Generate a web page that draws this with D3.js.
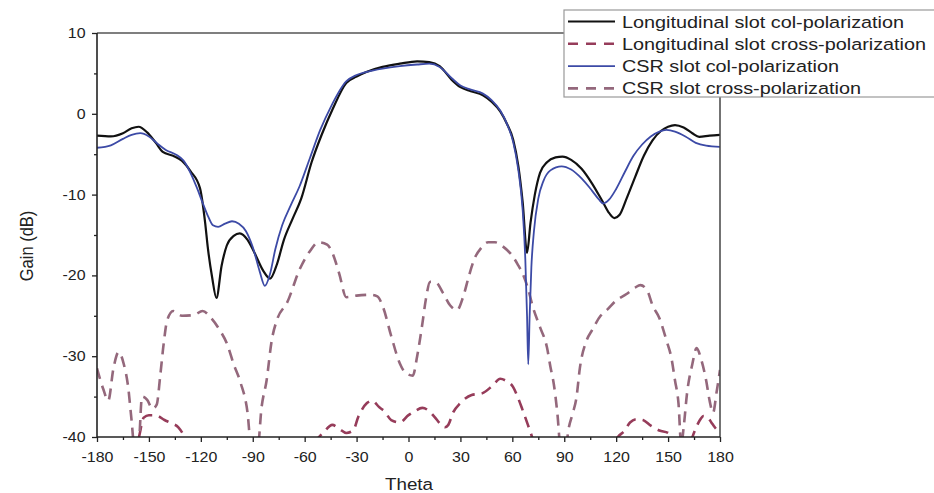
<!DOCTYPE html>
<html>
<head>
<meta charset="utf-8">
<script src="https://cdn.jsdelivr.net/npm/d3@7"></script>
<style>
  body { margin: 0; background: #fff; }
  text { font-family: "Liberation Sans", Arial, sans-serif; fill: #222; }
</style>
</head>
<body>
<div id="chart"></div>
<script>
// Gain pattern vs theta, four series as [theta, gain dB]

const seriesNames = [
  "Longitudinal slot col-polarization",
  "Longitudinal slot cross-polarization",
  "CSR slot col-polarization",
  "CSR slot cross-polarization"
];

const xTicks = [-180, -150, -120, -90, -60, -30, 0, 30, 60, 90, 120, 150, 180];
const yTicks = [10, 0, -10, -20, -30, -40];

const longCol = [
  [-180, -2.7], [-172, -2.8], [-165, -2.4], [-160, -1.8], [-156, -1.6], [-151, -2.3],
  [-146, -3.6], [-142, -4.7], [-136, -5.2], [-131, -5.8], [-126, -7.1], [-120.5, -9.2],
  [-117.5, -13.5], [-116, -16.5], [-113.5, -20.2], [-111, -22.8], [-108, -18.8],
  [-105, -16.3], [-101, -15.1], [-97.5, -14.8], [-93, -15.6], [-89, -17.2], [-84, -19.4],
  [-80, -20.4], [-76, -18.6], [-72, -15.6], [-67, -13], [-62, -10.5], [-56, -6],
  [-50, -2.5], [-44, 0.5], [-36, 3.8], [-30, 4.6], [-24, 5.2], [-15, 5.8], [-5, 6.2],
  [5, 6.5], [12, 6.4], [18, 5.9], [25, 4.2], [30, 3.3], [36, 2.8], [43, 2.3], [48, 1.5],
  [53, 0.3], [57, -1.3], [60.5, -3.2], [63.5, -6.5], [66, -11], [68.5, -17.2],
  [70.5, -13.5], [73, -10], [76, -7.3], [80, -6], [85, -5.4], [89, -5.3], [94, -5.7],
  [100, -6.8], [106, -8.6], [112, -10.8], [116, -12.3], [119, -12.9], [122, -12.5],
  [126, -10.5], [131, -7.8], [136, -5.2], [141, -3.3], [146, -2.1], [150, -1.6],
  [154, -1.4], [159, -1.7], [164, -2.4], [168, -2.85], [174, -2.7], [180, -2.6]
];

const csrCol = [
  [-180, -4.2], [-172, -3.9], [-165, -3.1], [-160, -2.6], [-155, -2.4], [-150, -2.8],
  [-145, -3.7], [-140, -4.5], [-134, -5.1], [-130, -5.8], [-126, -7.3], [-122, -9.3],
  [-119, -11], [-116, -12.6], [-113, -13.8], [-110, -14], [-106, -13.6], [-102, -13.3],
  [-98, -13.6], [-94, -14.5], [-90, -16.5], [-86, -19.5], [-83, -21.3], [-80, -19.8],
  [-77, -16.8], [-73, -13.8], [-68, -11.3], [-63, -9], [-57, -5.5], [-51, -2],
  [-45, 0.8], [-36, 4.0], [-30, 4.8], [-24, 5.2], [-15, 5.6], [-5, 5.9], [5, 6.1],
  [12, 6.2], [18, 5.8], [25, 4.4], [30, 3.5], [36, 3.0], [43, 2.5], [48, 1.7], [53, 0.4],
  [57, -1.3], [60.5, -3.5], [63.5, -7], [66, -12], [67.5, -18], [68.5, -25], [69.2, -31],
  [70, -25], [71, -19], [72.5, -14.5], [75, -10.5], [78, -8.3], [82, -7], [88.5, -6.5],
  [94, -6.9], [100, -8], [106, -9.5], [110, -10.6], [112.5, -11.1], [116, -10.6],
  [120, -9.3], [125, -7.2], [130, -5.2], [135, -3.8], [140, -2.8], [145, -2.2],
  [149, -2.0], [154, -2.2], [160, -2.8], [166, -3.6], [172, -3.95], [180, -4.1]
];

// lower dashed curve (goes below -40 where it is hidden)
const longCross = [
  [-160, -42], [-156, -40.2], [-153, -37.6], [-150, -37.3], [-146, -37.3], [-141, -37.9],
  [-137, -38.3], [-133, -38.8], [-129, -40.2], [-126, -42], [-60, -42], [-53, -40.3],
  [-49, -39.4], [-44, -38.5], [-40, -39], [-36, -39.5], [-32, -39.2], [-29, -37.5],
  [-24, -35.8], [-21, -35.5], [-17, -36.3], [-14, -36.8], [-10, -37.9], [-5, -38.2],
  [0, -37.3], [3, -36.9], [8, -36.4], [12, -36.8], [15, -37.5], [19, -38.5], [21, -38.8],
  [23, -38.5], [25.7, -37], [30, -35.8], [36.5, -34.8], [42.5, -34.6], [48.8, -33.6],
  [53, -32.8], [56, -33], [60.4, -33.8], [63, -35], [66, -36.7], [69, -38.5], [71.4, -40],
  [74, -42], [116, -42], [121, -40], [125, -39.2], [128, -38.2], [132, -37.8],
  [135.5, -37.9], [140, -38.6], [145, -39.2], [150, -39.5], [153, -40.5], [156, -42],
  [160, -42], [163, -40.6], [165.5, -39.2], [168.4, -37.9], [170.5, -37.4], [173, -37.6],
  [175, -38.2], [177, -38.8], [180, -39.5]
];

// upper dashed curve
const csrCross = [
  [-180, -31.5], [-176.5, -34], [-173.5, -35.5], [-170.5, -31.5], [-167.5, -29.5],
  [-164.5, -31], [-162, -33.8], [-160, -38], [-158.5, -41], [-156, -41], [-154, -35],
  [-151, -35.4], [-148, -36.5], [-145.5, -36], [-143.5, -32.5], [-141.5, -28.5],
  [-139.5, -25.6], [-136, -24.4], [-131, -25], [-124, -24.9], [-119, -24.4],
  [-114, -25.3], [-109, -26.8], [-105, -28.4], [-101, -31], [-97, -33.3], [-93, -37],
  [-91, -41], [-87, -41], [-85, -36.5], [-82, -33], [-79, -28], [-76, -25.5],
  [-70, -23.3], [-63, -19.3], [-57, -17], [-52, -15.9], [-47, -16.2], [-44, -17.2],
  [-40, -19.8], [-36, -22.7], [-30, -22.5], [-22, -22.4], [-18, -22.6], [-14.6, -24],
  [-10, -27.5], [-5, -30.9], [-2, -32], [2.5, -32.4], [5, -30], [8, -26], [10, -23],
  [12.5, -20.8], [16, -20.9], [20, -22.2], [24, -23.7], [28, -24.3], [31.5, -22.7],
  [35, -20], [38, -18], [42, -16.6], [46, -15.9], [50, -15.9], [55, -16.5], [59, -17.3],
  [63, -18.6], [66, -19.8], [69, -21.6], [72, -24], [76, -26.4], [80, -28.9],
  [82, -31.3], [84, -33.5], [86, -37], [87.8, -41], [91, -41], [92.5, -39], [95, -37],
  [97, -35.2], [99, -31.5], [103, -28], [106, -26.8], [111, -25], [115, -24.2],
  [120, -23.1], [126, -22.3], [131, -21.5], [134, -21.2], [138, -21.9], [141, -23.7],
  [145, -25.3], [149, -28], [152, -30.3], [154, -33], [156, -35.8], [157.6, -41],
  [159, -38.8], [161, -34.5], [164, -31], [166.5, -29], [169, -30.3], [172, -33],
  [174, -35.5], [176, -37], [178, -34.5], [180, -31.7]
];

const seriesData = [longCol, longCross, csrCol, csrCross];
const seriesColors = ["#111111", "#963c5a", "#3c4aa6", "#94687c"];
const seriesDash = [null, "11,7", null, "11,7"];
const seriesWidth = [2.2, 2.6, 1.8, 2.6];

const width = 934;
const height = 493;
const plot = { left: 97, right: 720, top: 33, bottom: 437 };
const stretch = "scale(1.14,1)"; // picture is a little wider than tall

const svg = d3.select("#chart")
  .append("svg")
  .attr("width", width)
  .attr("height", height);

const x = d3.scaleLinear().domain([-180, 180]).range([plot.left, plot.right]);
const y = d3.scaleLinear().domain([-40, 10]).range([plot.bottom, plot.top]);

svg.append("clipPath")
  .attr("id", "plot-clip")
  .append("rect")
  .attr("x", plot.left)
  .attr("y", plot.top)
  .attr("width", plot.right - plot.left)
  .attr("height", plot.bottom - plot.top);

// minor ticks
svg.append("g")
  .attr("transform", "translate(0," + plot.bottom + ")")
  .call(d3.axisBottom(x).tickValues(d3.range(-165, 180, 30)).tickSize(3).tickSizeOuter(0).tickFormat(""))
  .call(g => g.select(".domain").remove());

svg.append("g")
  .attr("transform", "translate(" + plot.left + ",0)")
  .call(d3.axisLeft(y).tickValues(d3.range(-35, 10, 10)).tickSize(3).tickSizeOuter(0).tickFormat(""))
  .call(g => g.select(".domain").remove());

// major ticks with labels (plain hyphen for negatives, as in the picture)
const xAxis = svg.append("g")
  .attr("transform", "translate(0," + plot.bottom + ")")
  .call(d3.axisBottom(x).tickValues(xTicks).tickSize(5).tickPadding(10).tickSizeOuter(0).tickFormat(d => String(d)));

const yAxis = svg.append("g")
  .attr("transform", "translate(" + plot.left + ",0)")
  .call(d3.axisLeft(y).tickValues(yTicks).tickSize(5).tickPadding(5).tickSizeOuter(0).tickFormat(d => String(d)));

[xAxis, yAxis].forEach(ax => {
  ax.select(".domain").remove();
  ax.selectAll("text")
    .style("font-size", "14px")
    .attr("fill", "#222")
    .attr("transform", stretch);
});
svg.selectAll(".tick line").attr("stroke", "#222").attr("stroke-width", 1.3);

// curves
const line = d3.line()
  .x(d => x(d[0]))
  .y(d => y(d[1]))
  .curve(d3.curveMonotoneX);

const curves = svg.append("g").attr("clip-path", "url(#plot-clip)");
[1, 3, 0, 2].forEach(i => {
  curves.append("path")
    .datum(seriesData[i])
    .attr("d", line)
    .attr("fill", "none")
    .attr("stroke", seriesColors[i])
    .attr("stroke-width", seriesWidth[i])
    .attr("stroke-dasharray", seriesDash[i])
    .attr("stroke-linejoin", "round");
});

// frame
svg.append("line")
  .attr("x1", plot.left).attr("x2", plot.right)
  .attr("y1", plot.top).attr("y2", plot.top)
  .attr("stroke", "#555").attr("stroke-width", 1.3);
svg.append("line")
  .attr("x1", plot.right).attr("x2", plot.right)
  .attr("y1", plot.top).attr("y2", plot.bottom)
  .attr("stroke", "#444").attr("stroke-width", 1.5);
svg.append("line")
  .attr("x1", plot.left).attr("x2", plot.left)
  .attr("y1", plot.top).attr("y2", plot.bottom)
  .attr("stroke", "#222").attr("stroke-width", 1.6);
svg.append("line")
  .attr("x1", plot.left).attr("x2", plot.right)
  .attr("y1", plot.bottom).attr("y2", plot.bottom)
  .attr("stroke", "#222").attr("stroke-width", 1.6);

// axis titles
svg.append("text")
  .attr("transform", "translate(409,490) " + stretch)
  .attr("text-anchor", "middle")
  .style("font-size", "16.5px")
  .text("Theta");

svg.append("text")
  .attr("transform", "translate(33,246) rotate(-90) scale(1,1.14)")
  .attr("text-anchor", "middle")
  .style("font-size", "16.5px")
  .text("Gain (dB)");

// legend box
const legend = svg.append("g").attr("transform", "translate(564,10)");

legend.append("rect")
  .attr("width", 400)
  .attr("height", 87)
  .attr("fill", "#fff")
  .attr("stroke", "#999")
  .attr("stroke-width", 1.2);

const rows = legend.selectAll(".legend")
  .data(seriesNames)
  .enter()
  .append("g")
  .attr("class", "legend")
  .attr("transform", (d, i) => "translate(0," + (11.5 + 22.3 * i) + ")");

rows.append("line")
  .attr("x1", 4)
  .attr("x2", 51)
  .attr("stroke", (d, i) => seriesColors[i])
  .attr("stroke-width", (d, i) => seriesWidth[i])
  .attr("stroke-dasharray", (d, i) => seriesDash[i] ? "10,8" : null);

rows.append("text")
  .attr("transform", "translate(58,0) " + stretch)
  .attr("dy", "0.35em")
  .style("font-size", "17.4px")
  .text(d => d);
</script>
</body>
</html>
